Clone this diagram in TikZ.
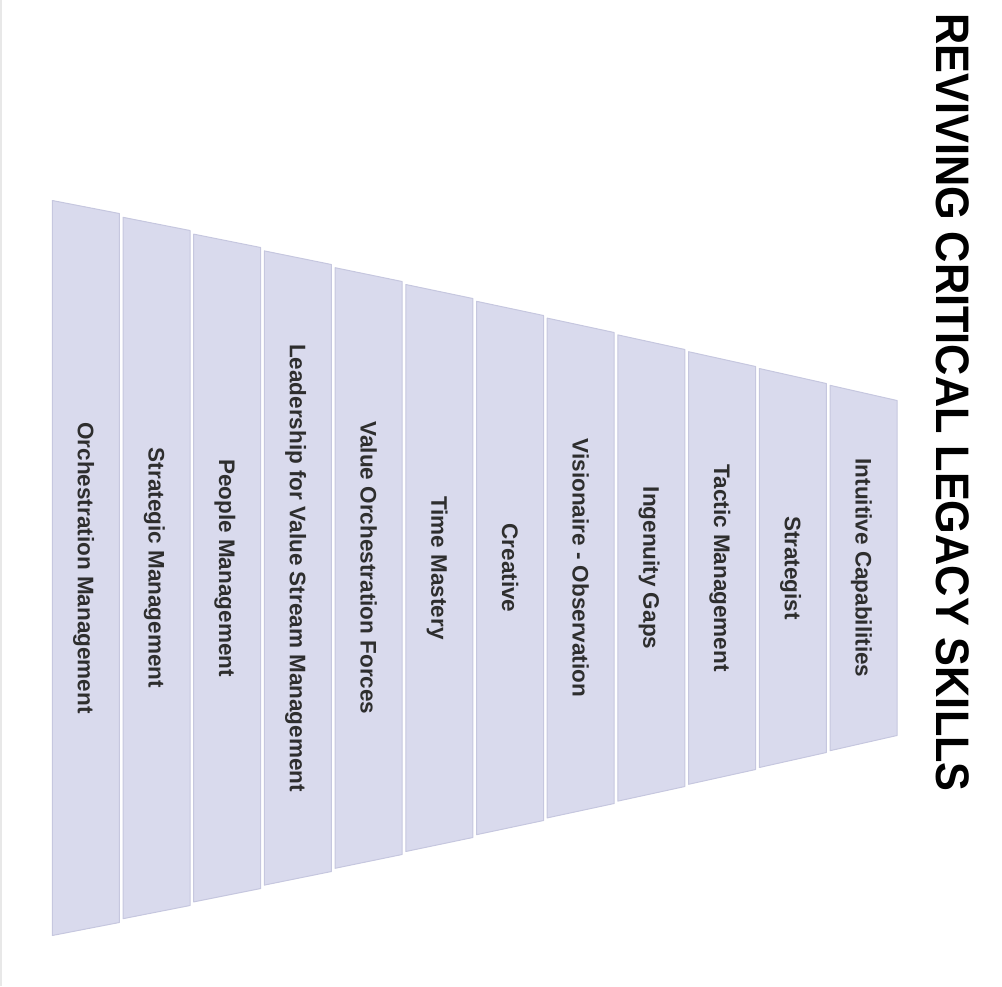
\documentclass[tikz,border=0pt]{standalone}
\usepackage{fontspec}
\setmainfont{Liberation Sans}
\usepackage{tikz}
\usetikzlibrary{positioning}
\usetikzlibrary{calc}
\definecolor{slatfill}{HTML}{D9DAED}
\definecolor{slatline}{HTML}{C6C7DF}
\definecolor{skilltext}{HTML}{2E2E2E}
\definecolor{edgegray}{HTML}{E8E8E8}

\begin{document}
\begin{tikzpicture}[x=1pt, y=-1pt,
        slat/.style={draw=slatline, fill=slatfill, line width=1pt, line join=round},
        skill/.style={rotate=-90, anchor=base, inner sep=0pt, text=skilltext, font=\fontsize{22.5}{27}\selectfont\bfseries},
        heading/.style={rotate=-90, anchor=base, inner sep=0pt, text=black, font=\fontsize{47}{56}\selectfont\bfseries}]
            \useasboundingbox (0,0) rectangle (1002,986);
            \draw[edgegray, line width=2pt] (1,0) -- (1,986);

            \foreach \lab [count=\i from 0] in {Orchestration Management, Strategic Management, People Management, Leadership for Value Stream Management, Value Orchestration Forces, Time Mastery, Creative, Visionaire - Observation, Ingenuity Gaps, Tactic Management, Strategist, Intuitive Capabilities} {
                \pgfmathsetmacro{\xl}{52.3+70.7*\i}
                \pgfmathsetmacro{\xr}{\xl+67}
                \pgfmathsetmacro{\hl}{367.5-16.8*\i}
                \pgfmathsetmacro{\hr}{354.5-17*\i}
                \draw[slat] (\xl,568-\hl) -- (\xr,568-\hr) -- (\xr,568+\hr) -- (\xl,568+\hl) -- cycle;
                \node[skill] (s\i) at ({\xl+33.5-8},568) {\lab};
            }

            \node[heading] (title) at (936,402.5) {\scalebox{0.92}[1]{REVIVING CRITICAL LEGACY SKILLS}};
        \end{tikzpicture}
\end{document}
